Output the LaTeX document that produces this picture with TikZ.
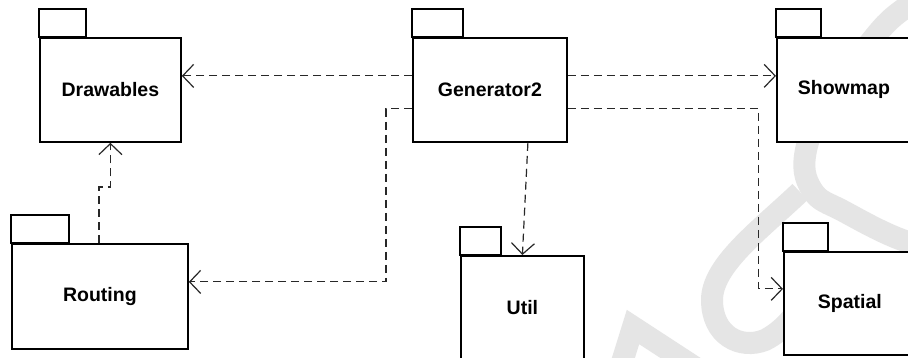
\documentclass[tikz,border=0pt]{standalone}
\usepackage{fontspec}
\setmainfont{Liberation Sans}
\usetikzlibrary{arrows.meta}
\definecolor{wmgray}{RGB}{229,229,229}
\definecolor{depcol}{RGB}{40,40,40}
\tikzset{
  pkg/.style={draw=black, line width=1.8pt, fill=white, inner sep=0pt, anchor=north west,
    font=\fontsize{19.5}{23}\selectfont\bfseries},
  pkgtab/.style={draw=black, line width=1.8pt, fill=white},
  dep/.style={draw=depcol, line width=1.2pt, dash pattern=on 8pt off 5pt,
    -{Straight Barb[length=11pt,width=23pt,line width=1.2pt]}},
  wm/.style={draw=wmgray, line width=22pt},
}
\begin{document}
\begin{tikzpicture}[x=1pt,y=-1pt]
\useasboundingbox (0,0) rectangle (908,358);
\fill[white] (0,0) rectangle (908,358);
% watermark
\draw[wm] plot[smooth cycle, tension=0.7] coordinates {(960,-20) (905,8) (868,45) (830,100) (806,150) (812,190) (845,212) (908,242) (960,250) (1000,200) (1005,60)};
\draw[wm] (800,192) .. controls (760,230) and (712,265) .. (712,300) .. controls (712,335) and (740,350) .. (765,340) .. controls (785,330) and (800,310) .. (810,290);
\draw[wm, line join=miter] (619,372) -- (633,327) -- (702,372);
% packages
\node[pkg, minimum width=141pt, minimum height=104pt] (drw) at (39,37) {Drawables};
\draw[pkgtab] (drw.north west) rectangle ++(47,-28);
\node[pkg, minimum width=154pt, minimum height=104pt] (gen) at (412,37) {Generator2};
\draw[pkgtab] (gen.north west) rectangle ++(51,-28);
\node[pkg, minimum width=134pt, minimum height=104pt] (shw) at (776,37) {Showmap};
\draw[pkgtab] (shw.north west) rectangle ++(45,-28);
\node[pkg, minimum width=176pt, minimum height=105pt] (rout) at (11,243) {Routing};
\draw[pkgtab] (rout.north west) rectangle ++(58,-28);
\node[pkg, minimum width=123pt, minimum height=104pt] (utl) at (460,255) {Util};
\draw[pkgtab] (utl.north west) rectangle ++(41,-28);
\node[pkg, minimum width=132pt, minimum height=103pt] (spa) at (783,251) {Spatial};
\draw[pkgtab] (spa.north west) rectangle ++(45,-28);
% dependencies
\draw[dep] ([yshift=14pt]gen.west) -- ([yshift=14pt]drw.east);
\draw[dep] ([yshift=14pt]gen.east) -- ([yshift=14pt]shw.west);
\draw[dep] ([yshift=-19pt]gen.west) -- ++(-26,0) |- ([yshift=14.5pt]rout.east);
\draw[dep] ([yshift=-19pt]gen.east) -- ++(191,0) |- ([yshift=14.5pt]spa.west);
\draw[dep] ([xshift=38pt]gen.south) -- (utl.north);
\draw[dep] ([xshift=-1pt]rout.north) -- ++(0,-56) -| (drw.south);
\end{tikzpicture}
\end{document}
